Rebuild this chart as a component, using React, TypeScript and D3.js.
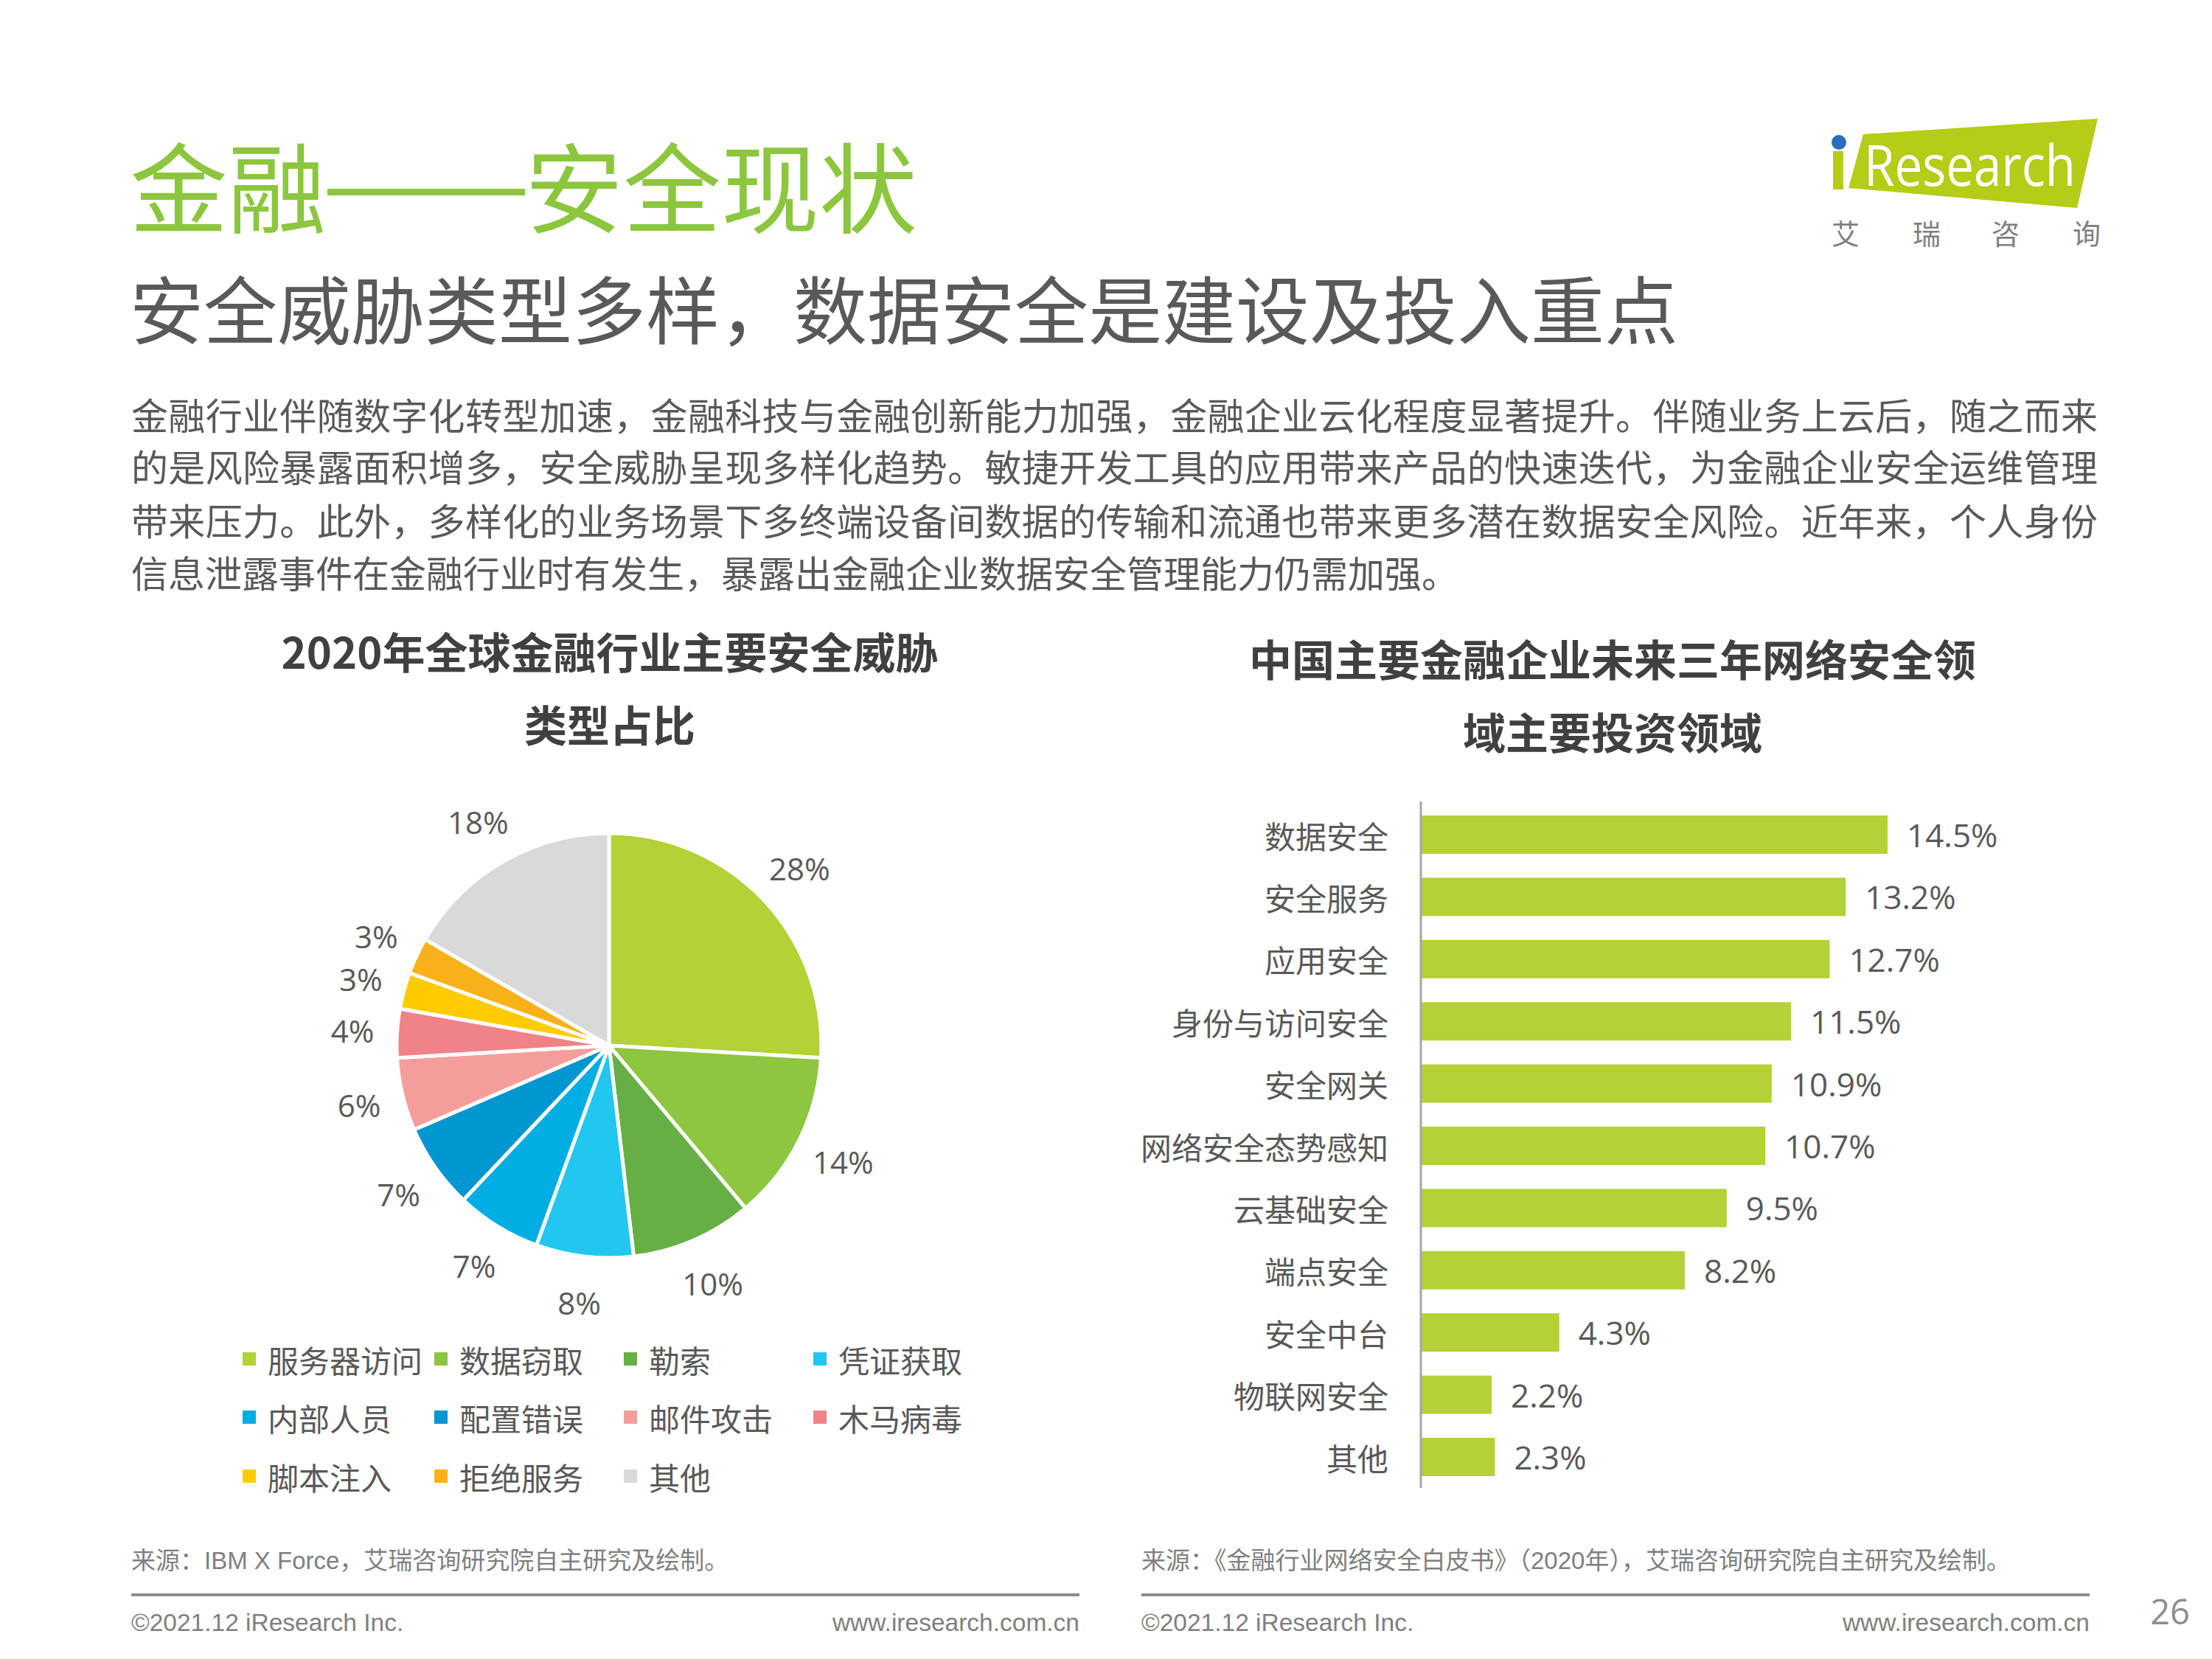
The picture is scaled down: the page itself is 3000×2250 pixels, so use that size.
import React from 'react';
import * as d3 from 'd3';

const pieCategories = ['服务器访问', '数据窃取', '勒索', '凭证获取', '内部人员', '配置错误', '邮件攻击', '木马病毒', '脚本注入', '拒绝服务', '其他'];
const pieValues = [28, 14, 10, 8, 7, 7, 6, 4, 3, 3, 18];
const pieColors = ['#B2D235', '#8DC63F', '#66AF45', '#22C7EF', '#00AEE3', '#0096D0', '#F49E9C', '#F08389', '#FFCC00', '#F9B11A', '#D9D9D9'];

const barCategories = ['数据安全', '安全服务', '应用安全', '身份与访问安全', '安全网关', '网络安全态势感知', '云基础安全', '端点安全', '安全中台', '物联网安全', '其他'];
const barValues = [14.5, 13.2, 12.7, 11.5, 10.9, 10.7, 9.5, 8.2, 4.3, 2.2, 2.3];

const bodyLines = [
  '金融行业伴随数字化转型加速，金融科技与金融创新能力加强，金融企业云化程度显著提升。伴随业务上云后，随之而来',
  '的是风险暴露面积增多，安全威胁呈现多样化趋势。敏捷开发工具的应用带来产品的快速迭代，为金融企业安全运维管理',
  '带来压力。此外，多样化的业务场景下多终端设备间数据的传输和流通也带来更多潜在数据安全风险。近年来，个人身份',
  '信息泄露事件在金融行业时有发生，暴露出金融企业数据安全管理能力仍需加强。',
];

const CJK = "'Noto Sans CJK SC', 'Noto Sans', sans-serif";
const NUM = "'Open Sans', 'Noto Sans CJK SC', sans-serif";
const ARIAL = "'Liberation Sans', 'Noto Sans CJK SC', sans-serif";

export default function App() {
  const W = 3000, H = 2250;

  // Pie
  const cx = 826, cy = 1418, R = 288;
  const pie = d3.pie<number>().sort(null).value((d) => d);
  const arcs = pie(pieValues);
  const arcGen = d3.arc<d3.PieArcDatum<number>>().innerRadius(0).outerRadius(R);
  const labelR = 332;
  const labelFont = 42;

  // Bars
  const x = d3.scaleLinear().domain([0, 14.5]).range([1927, 2560]);
  const y = d3.scaleBand<string>().domain(barCategories).range([1089.8, 2018.2]).paddingInner(0.384).paddingOuter(0.192);

  const legendCols = [329, 589, 846, 1103];
  const legendRows = [1843, 1922, 2002];

  return (
    <svg width={W} height={H} viewBox={`0 0 ${W} ${H}`} style={{ position: 'absolute', left: 0, top: 0, background: '#fff' }}>
      <rect x={0} y={0} width={W} height={H} fill="#fff" />
      {/* Title */}
      <text x={176} y={248} fontFamily={CJK} fontSize={133} fill="#8CC63F" dominantBaseline="central">金融</text>
      <rect x={444} y={256} width={268} height={9} fill="#8CC63F" />
      <text x={712} y={248} fontFamily={CJK} fontSize={133} fill="#8CC63F" dominantBaseline="central">安全现状</text>
      <text x={176} y={415} fontFamily={CJK} fontSize={100} fill="#595959" dominantBaseline="central">安全威胁类型多样，数据安全是建设及投入重点</text>

      {/* Logo */}
      <polygon points="2527,182 2845,161 2817,282 2507,255" fill="#B5CC18" />
      <rect x={2486} y={205} width={14} height={52} fill="#B5CC18" />
      <circle cx={2494} cy={193} r={10} fill="#2A6EBB" />
      <text x={2528} y={252} fontFamily={NUM} fontSize={76} fill="#fff" textLength={287} lengthAdjust="spacingAndGlyphs">Research</text>
      {['艾', '瑞', '咨', '询'].map((c, i) => (
        <text key={c} x={[2503, 2613, 2720, 2830][i]} y={314} fontFamily={CJK} fontSize={38} fill="#7F7F7F" textAnchor="middle" dominantBaseline="central">{c}</text>
      ))}

      {/* Body */}
      {bodyLines.map((l, i) => (
        <text key={i} x={178} y={[561, 631, 704, 775][i]} fontFamily={CJK} fontSize={50} fill="#595959" dominantBaseline="central"
          {...(i < 3 ? { textLength: 2667, lengthAdjust: 'spacing' } : {})}>{l}</text>
      ))}

      {/* Chart titles */}
      <text x={827} y={882} fontFamily={CJK} fontSize={58} fontWeight={700} fill="#404040" textAnchor="middle" dominantBaseline="central">2020年全球金融行业主要安全威胁</text>
      <text x={827} y={981} fontFamily={CJK} fontSize={58} fontWeight={700} fill="#404040" textAnchor="middle" dominantBaseline="central">类型占比</text>
      <text x={2187} y={892} fontFamily={CJK} fontSize={58} fontWeight={700} fill="#404040" textAnchor="middle" dominantBaseline="central">中国主要金融企业未来三年网络安全领</text>
      <text x={2187} y={991} fontFamily={CJK} fontSize={58} fontWeight={700} fill="#404040" textAnchor="middle" dominantBaseline="central">域主要投资领域</text>

      {/* Pie */}
      <g transform={`translate(${cx},${cy})`}>
        {arcs.map((a, i) => (
          <path key={i} d={arcGen(a) || ''} fill={pieColors[i]} stroke="#fff" strokeWidth={5} strokeLinejoin="round" />
        ))}
        {arcs.map((a, i) => {
          const mid = (a.startAngle + a.endAngle) / 2;
          const s = Math.sin(mid), c = Math.cos(mid);
          const label = `${pieValues[i]}%`;
          const halfW = (label.length - 1) * 0.29 * labelFont + 0.42 * labelFont;
          const halfH = 0.5 * labelFont;
          const lx = s * labelR + s * halfW * 0.55;
          const ly = -c * labelR - c * halfH * 0.9;
          return (
            <text key={'l' + i} x={lx} y={ly} fontFamily={NUM} fontSize={labelFont} fill="#595959" textAnchor="middle" dominantBaseline="central">{label}</text>
          );
        })}
      </g>

      {/* Legend */}
      {pieCategories.map((c, i) => {
        const col = i % 4, row = Math.floor(i / 4);
        const lx = legendCols[col], ly = legendRows[row];
        return (
          <g key={c}>
            <rect x={lx} y={ly - 9} width={18} height={18} fill={pieColors[i]} />
            <text x={lx + 34} y={ly} fontFamily={CJK} fontSize={42} fill="#595959" dominantBaseline="central">{c}</text>
          </g>
        );
      })}

      {/* Bars */}
      {barCategories.map((c, i) => (
        <g key={c}>
          <rect x={x(0)} y={y(c)!} width={x(barValues[i]) - x(0)} height={y.bandwidth()} fill="#B2D235" />
          <text x={x(barValues[i]) + 26} y={y(c)! + y.bandwidth() / 2} fontFamily={NUM} fontSize={44} fill="#595959" dominantBaseline="central">{barValues[i].toFixed(1)}%</text>
          <text x={1883} y={y(c)! + y.bandwidth() / 2} fontFamily={CJK} fontSize={42} fill="#595959" textAnchor="end" dominantBaseline="central">{c}</text>
        </g>
      ))}
      <line x1={1927} x2={1927} y1={1087} y2={2018} stroke="#A6A6A6" strokeWidth={3} />

      {/* Sources */}
      <text x={178} y={2116} fontFamily={ARIAL} fontSize={33} fill="#7F7F7F" dominantBaseline="central">来源：IBM X Force，艾瑞咨询研究院自主研究及绘制。</text>
      <text x={1548} y={2116} fontFamily={ARIAL} fontSize={33} fill="#7F7F7F" dominantBaseline="central">来源：《金融行业网络安全白皮书》（2020年），艾瑞咨询研究院自主研究及绘制。</text>

      {/* Footer lines */}
      <line x1={178} x2={1464} y1={2163} y2={2163} stroke="#8C8C8C" strokeWidth={4} />
      <line x1={1548} x2={2834} y1={2163} y2={2163} stroke="#8C8C8C" strokeWidth={4} />
      <text x={178} y={2200} fontFamily={ARIAL} fontSize={33.5} fill="#7F7F7F" dominantBaseline="central">©2021.12 iResearch Inc.</text>
      <text x={1464} y={2200} fontFamily={ARIAL} fontSize={33.5} fill="#7F7F7F" textAnchor="end" dominantBaseline="central">www.iresearch.com.cn</text>
      <text x={1548} y={2200} fontFamily={ARIAL} fontSize={33.5} fill="#7F7F7F" dominantBaseline="central">©2021.12 iResearch Inc.</text>
      <text x={2834} y={2200} fontFamily={ARIAL} fontSize={33.5} fill="#7F7F7F" textAnchor="end" dominantBaseline="central">www.iresearch.com.cn</text>
      <text x={2970} y={2185} fontFamily={NUM} fontSize={47} fill="#8C8C8C" textAnchor="end" dominantBaseline="central">26</text>
    </svg>
  );
}
